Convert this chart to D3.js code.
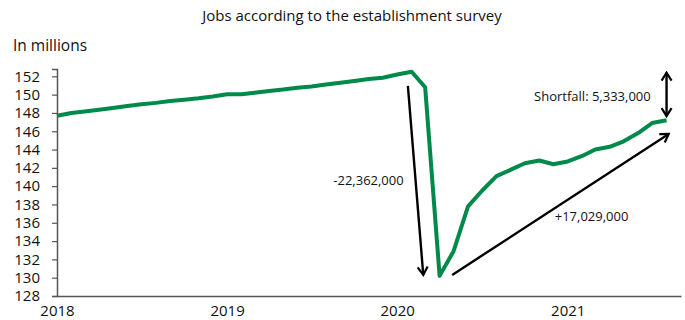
<!DOCTYPE html>
<html>
<head>
<meta charset="utf-8">
<script src="https://cdn.jsdelivr.net/npm/d3@7"></script>
<style>
  body { margin: 0; background: #fff; }
  svg { display: block; font-family: "Open Sans", sans-serif; }
</style>
</head>
<body>
<div id="chart"></div>
<script>
// monthly payrolls, Jan 2018 .. Aug 2021 (millions)
const months = d3.timeMonth.range(new Date(2018, 0, 1), new Date(2021, 8, 1));
const jobs = [
  147.7, 148.0, 148.15, 148.35, 148.55, 148.75, 148.95, 149.1, 149.3, 149.45, 149.6, 149.8,
  150.05, 150.05, 150.2, 150.4, 150.55, 150.75, 150.9, 151.1, 151.3, 151.5, 151.7, 151.85,
  152.2, 152.5, 150.8, 130.2, 132.9, 137.8, 139.5, 141.1, 141.8, 142.5, 142.8, 142.4,
  142.7, 143.3, 144.0, 144.3, 144.9, 145.8, 146.9, 147.2
];
const yTicks = d3.range(128, 153, 2);
const yearTicks = [2018, 2019, 2020, 2021];

// annotations in (month index, value)
const arrows = [
  { from: [24.74, 150.95], to: [25.86, 130.3], heads: 'end' },
  { from: [27.9, 130.3], to: [43.15, 145.7], heads: 'end' },
  { from: [43.0, 152.4], to: [43.0, 147.65], heads: 'both' }
];
const notes = [
  { text: '-22,362,000', at: [24.45, 140.1], anchor: 'end' },
  { text: '+17,029,000', at: [35.1, 136.2], anchor: 'start' },
  { text: 'Shortfall: 5,333,000', at: [41.9, 149.3], anchor: 'end' }
];

const width = 685, height = 320;
const margin = { top: 69, right: 4, bottom: 24, left: 57 };

const svg = d3.select('#chart').append('svg')
  .attr('width', width)
  .attr('height', height);

const x = d3.scaleTime()
  .domain([new Date(2018, 0, 1), new Date(2021, 8, 1)])
  .range([margin.left, width - margin.right]);
const y = d3.scaleLinear()
  .domain([128, 152.8])
  .range([height - margin.bottom, margin.top]);

function monthAt(m) {
  const base = d3.timeMonth.offset(new Date(2018, 0, 1), Math.floor(m));
  const next = d3.timeMonth.offset(base, 1);
  return new Date(+base + (m - Math.floor(m)) * (next - base));
}

svg.append('text')
  .attr('x', 352).attr('y', 21)
  .attr('text-anchor', 'middle')
  .style('font-size', '15px')
  .attr('fill', '#111')
  .text('Jobs according to the establishment survey');

svg.append('text')
  .attr('x', 13).attr('y', 51)
  .style('font-size', '15.5px')
  .attr('fill', '#111')
  .text('In millions');

// y axis
const yAxis = svg.append('g')
  .attr('transform', `translate(${margin.left},0)`)
  .call(d3.axisLeft(y).tickValues(yTicks).tickSize(5).tickPadding(12).tickFormat(d3.format('d')));
yAxis.select('.domain').attr('stroke', '#555').attr('stroke-width', 1.5);
yAxis.selectAll('.tick line').attr('stroke', '#555').attr('stroke-width', 1.2);
yAxis.selectAll('text').style('font-size', '15px').attr('fill', '#111').attr('font-family', '"Open Sans", sans-serif');

// x axis
const xAxis = svg.append('g')
  .attr('transform', `translate(0,${height - margin.bottom})`)
  .call(d3.axisBottom(x)
    .tickValues(yearTicks.map(yr => new Date(yr, 0, 1)))
    .tickSize(0).tickPadding(9).tickFormat(d3.timeFormat('%Y')));
xAxis.select('.domain').attr('stroke', '#555').attr('stroke-width', 1.5);
xAxis.selectAll('text').style('font-size', '15px').attr('fill', '#111').attr('font-family', '"Open Sans", sans-serif');

// line
const line = d3.line()
  .x((d, i) => x(months[i]))
  .y(d => y(d));
svg.append('path')
  .datum(jobs)
  .attr('fill', 'none')
  .attr('stroke', '#008a4a')
  .attr('stroke-width', 4)
  .attr('stroke-linejoin', 'round')
  .attr('d', line);

// arrows
svg.append('defs').append('marker')
  .attr('id', 'head')
  .attr('viewBox', '0 0 12 12')
  .attr('refX', 10).attr('refY', 6)
  .attr('markerWidth', 12).attr('markerHeight', 12)
  .attr('markerUnits', 'userSpaceOnUse')
  .attr('orient', 'auto-start-reverse')
  .append('path')
  .attr('d', 'M2,1 L10,6 L2,11')
  .attr('fill', 'none')
  .attr('stroke', '#000')
  .attr('stroke-width', 2.2);

svg.selectAll('line.arrow')
  .data(arrows)
  .enter()
  .append('line')
  .attr('class', 'arrow')
  .attr('x1', d => x(monthAt(d.from[0])))
  .attr('y1', d => y(d.from[1]))
  .attr('x2', d => x(monthAt(d.to[0])))
  .attr('y2', d => y(d.to[1]))
  .attr('stroke', '#000')
  .attr('stroke-width', 2.4)
  .attr('marker-end', 'url(#head)')
  .attr('marker-start', d => d.heads === 'both' ? 'url(#head)' : null);

svg.selectAll('text.note')
  .data(notes)
  .enter()
  .append('text')
  .attr('class', 'note')
  .attr('x', d => x(monthAt(d.at[0])))
  .attr('y', d => y(d.at[1]))
  .attr('text-anchor', d => d.anchor)
  .style('font-size', '13px')
  .attr('fill', '#111')
  .text(d => d.text);
</script>
</body>
</html>
